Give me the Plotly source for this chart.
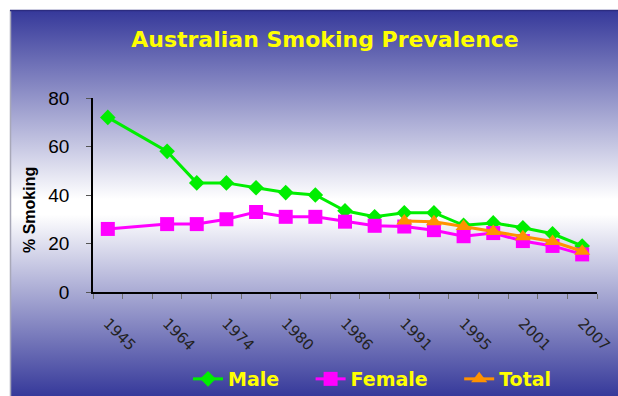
import base64
import plotly.graph_objects as go

# ---- data ----
categories = list(range(17))  # category slots on the x axis
tick_positions = [0, 2, 4, 6, 8, 10, 12, 14, 16]
tick_labels = ["1945", "1964", "1974", "1980", "1986", "1991", "1995", "2001", "2007"]

male_x = [0, 2, 3, 4, 5, 6, 7, 8, 9, 10, 11, 12, 13, 14, 15, 16]
male_y = [72, 58, 45, 45, 43, 41, 40, 33.5, 31, 32.7, 32.7, 27.5, 28.5, 26.5, 24, 19]

female_x = [0, 2, 3, 4, 5, 6, 7, 8, 9, 10, 11, 12, 13, 14, 15, 16]
female_y = [26, 28, 28, 30, 33, 31, 31, 29, 27.3, 27, 25.5, 23, 24.3, 21, 19, 15.5]

total_x = [10, 11, 12, 13, 14, 15, 16]
total_y = [29.3, 29, 27, 25, 22.8, 20.8, 16.8]

series_names = ["Male", "Female", "Total"]

# ---- layout geometry (pixels) ----
W, H = 618, 396
ML, MR, MT, MB = 93, 21, 98, 104
PW, PH = W - ML - MR, H - MT - MB


def px_x(px):
    return (px - ML) / PW


def px_y(py):
    return (H - MB - py) / PH


# gradient background as svg image
svg = (
    '<svg xmlns="http://www.w3.org/2000/svg" width="100" height="100" preserveAspectRatio="none">'
    '<defs><linearGradient id="g" x1="0" y1="0" x2="0" y2="1">'
    '<stop offset="0" stop-color="#35389a"/>'
    '<stop offset="0.49" stop-color="#ffffff"/>'
    '<stop offset="0.53" stop-color="#ffffff"/>'
    '<stop offset="1" stop-color="#36399a"/>'
    '</linearGradient></defs>'
    '<rect x="0" y="0" width="100" height="100" fill="url(#g)"/></svg>'
)
svg_uri = "data:image/svg+xml;base64," + base64.b64encode(svg.encode()).decode()

pad = "\u00a0" * 4

fig = go.Figure()

fig.add_trace(go.Scatter(
    x=male_x, y=male_y, name=series_names[0] + pad, mode="lines+markers",
    line=dict(color="#00ee00", width=3),
    marker=dict(symbol="diamond", size=12, color="#00ee00"),
))
fig.add_trace(go.Scatter(
    x=female_x, y=female_y, name=series_names[1] + pad, mode="lines+markers",
    line=dict(color="#ff00ff", width=3),
    marker=dict(symbol="square", size=14, color="#ff00ff"),
))
fig.add_trace(go.Scatter(
    x=total_x, y=total_y, name=series_names[2], mode="lines+markers",
    line=dict(color="#ff9200", width=3),
    marker=dict(symbol="triangle-up", size=14, color="#ff9200"),
))

fig.update_layout(
    width=W, height=H,
    margin=dict(l=ML, r=MR, t=MT, b=MB, autoexpand=False),
    paper_bgcolor="white",
    plot_bgcolor="rgba(0,0,0,0)",
    showlegend=True,
    title=dict(
        text="Australian Smoking Prevalence",
        x=325 / W, xanchor="center", xref="container",
        y=1 - 39 / H, yanchor="middle", yref="container",
        font=dict(family="DejaVu Sans", size=22, color="#ffff00", weight="bold"),
    ),
    legend=dict(
        orientation="h",
        xref="container", yref="container",
        x=188 / W, xanchor="left",
        y=1 - 379 / H, yanchor="middle",
        bgcolor="rgba(0,0,0,0)",
        font=dict(family="DejaVu Sans", size=19, color="#ffff00", weight="bold"),
        itemsizing="trace",
    ),
    xaxis=dict(
        range=[-0.5, 16.5],
        automargin=False,
        tickmode="array", tickvals=tick_positions, ticktext=tick_labels,
        tickangle=45,
        ticks="outside", ticklen=0,
        ticklabelstandoff=15,
        tickfont=dict(family="DejaVu Sans", size=15, color="#222222"),
        showline=True, linecolor="black", linewidth=1.5,
        showgrid=False, zeroline=False,
        minor=dict(tickmode="linear", tick0=-0.5, dtick=1, ticks="outside",
                   ticklen=5, tickcolor="#707070", tickwidth=1, showgrid=False),
    ),
    yaxis=dict(
        range=[0, 80],
        automargin=False,
        tickmode="array", tickvals=[0, 20, 40, 60, 80],
        ticks="outside", ticklen=5, tickcolor="#555555",
        ticklabelstandoff=13,
        tickfont=dict(family="Liberation Sans, Arial", size=19, color="black"),
        showline=True, linecolor="black", linewidth=1.5,
        showgrid=False, zeroline=False,
    ),
    images=[dict(
        source=svg_uri, xref="paper", yref="paper",
        x=px_x(10), y=px_y(10), sizex=px_x(W) - px_x(10), sizey=px_y(10) - px_y(H),
        sizing="stretch", xanchor="left", yanchor="top", layer="below",
    )],
    shapes=[
        dict(type="line", xref="paper", yref="paper",
             x0=px_x(10.5), x1=px_x(10.5), y0=px_y(10), y1=px_y(H),
             line=dict(color="#a8a8b8", width=1.5), layer="below"),
        dict(type="line", xref="paper", yref="paper",
             x0=px_x(10), x1=px_x(W), y0=px_y(10.5), y1=px_y(10.5),
             line=dict(color="#2c2c80", width=1.5), layer="below"),
    ],
    annotations=[dict(
        text="% Smoking", textangle=-90, showarrow=False,
        xref="paper", yref="paper", x=px_x(29), y=px_y(210),
        xanchor="center", yanchor="middle",
        font=dict(family="Liberation Sans, Arial", size=16, color="black", weight="bold"),
    )],
)

fig.write_html("out.html")
